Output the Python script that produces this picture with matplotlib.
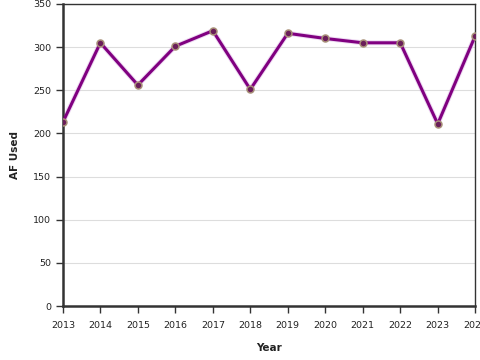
import matplotlib
matplotlib.use("Agg")
import matplotlib.pyplot as plt

# AF used per year
years = [2013, 2014, 2015, 2016, 2017, 2018, 2019, 2020, 2021, 2022, 2023, 2024]
af_used = [213, 305, 256, 301, 319, 251, 316, 310, 305, 305, 211, 313]

fig = plt.figure(figsize=(4.8, 3.6), dpi=100)
ax = fig.add_axes([0.131, 0.15, 0.859, 0.839])

ax.plot(years, af_used, color="#dcb4e6", linewidth=3.6, alpha=0.5, zorder=2)
ax.plot(years, af_used, color="#800080", linewidth=2.2, zorder=3,
        marker="o", markersize=5, markerfacecolor="#6a1e5a",
        markeredgecolor="#a89078", markeredgewidth=1.1)

ax.set_xlim(2013, 2024)
ax.set_ylim(0, 350)
ax.set_xticks(years)
ax.set_yticks(range(0, 351, 50))
ax.grid(axis="y", color="#dddddd", linewidth=0.8, zorder=0)
ax.set_axisbelow(True)

for s in ["left", "bottom"]:
    ax.spines[s].set_linewidth(1.8)
    ax.spines[s].set_color("#333333")
for s in ["top", "right"]:
    ax.spines[s].set_linewidth(1.0)
    ax.spines[s].set_color("#333333")

ax.tick_params(axis="both", labelsize=6.8, length=5, width=1, color="#333333",
               labelcolor="#222222")
ax.tick_params(axis="x", pad=6)
ax.set_xlabel("Year", fontsize=7.5, fontweight="bold", labelpad=9, color="#222222")
ax.set_ylabel("AF Used", fontsize=7.5, fontweight="bold", labelpad=9, color="#222222")

fig.savefig("out.png", dpi=100)
